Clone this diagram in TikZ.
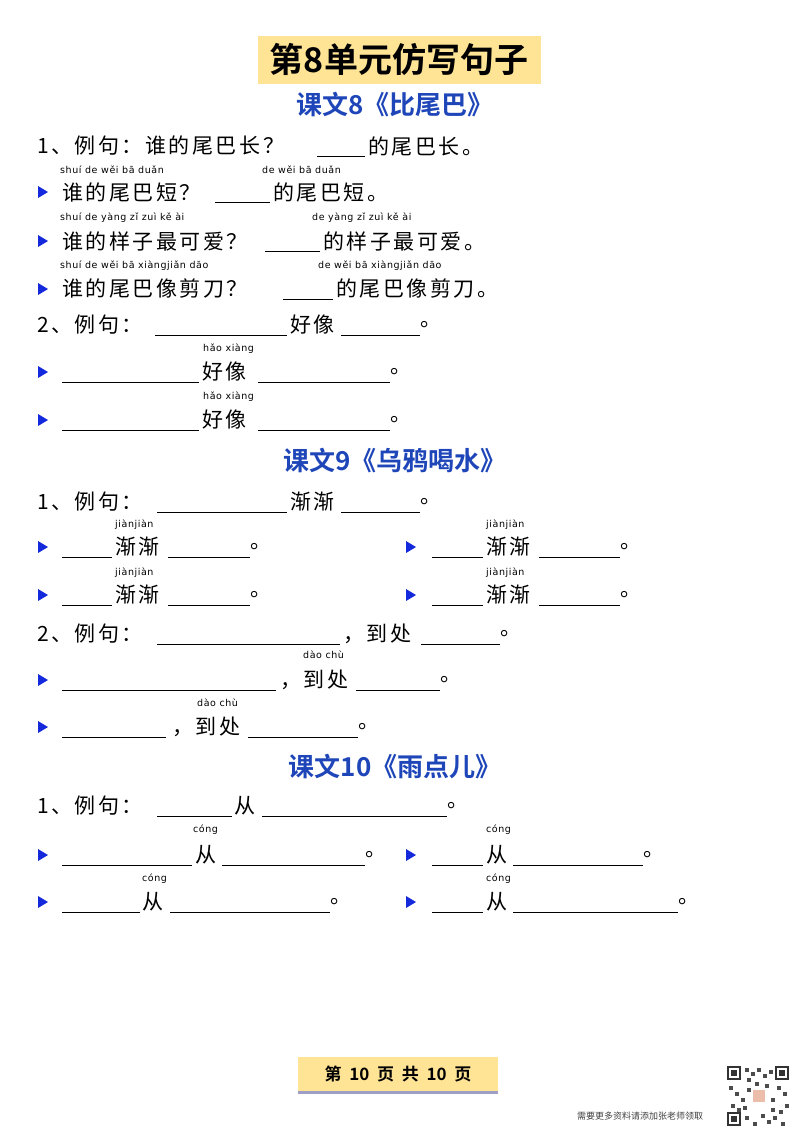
\documentclass[tikz,border=0pt]{standalone}
\usepackage{fontspec}
\newfontfamily\cn[LetterSpace=12]{Noto Sans CJK SC}
\newfontfamily\cnplain{Noto Sans CJK SC}
\newfontfamily\cnb{Noto Sans CJK SC Bold}
\newfontfamily\pyf[LetterSpace=6]{DejaVu Sans}
\definecolor{hblue}{RGB}{30,70,185}
\definecolor{tri}{RGB}{20,40,220}
\definecolor{ybox}{RGB}{255,228,150}
\newcommand\myT[3]{\node[anchor=west,inner sep=0] at (#1,#2) {\cn\fontsize{21}{24}\selectfont #3};}
\newcommand\myB[3]{\draw[line width=0.9pt] (#1,#3+10) -- (#2,#3+10);}
\newcommand\myP[3]{\node[anchor=west,inner sep=0] at (#1,#2) {\pyf\fontsize{9.5}{11}\selectfont #3};}
\newcommand\myR[2]{\fill[tri] (#1-4,#2-6) -- (#1+6,#2) -- (#1-4,#2+6) -- cycle;}
\newcommand\myH[3]{\node[text=hblue] at (#1,#2) {\cnb\fontsize{26}{30}\selectfont #3};}
\begin{document}
\begin{tikzpicture}[x=1pt,y=-1pt]
\useasboundingbox (0,0) rectangle (800,1132);
% title
\fill[ybox] (258,36) rectangle (541,84);
\node at (399,60) {\cnb\fontsize{34}{38}\selectfont 第8单元仿写句子};
\myH{395}{105}{课文8《比尾巴》}
% section 8
\myT{37}{146}{1、例句：谁的尾巴长？}\myB{317}{365}{146}\myT{368}{146}{的尾巴长。}
\myP{60}{170}{shuí de wěi bā duǎn}\myP{262}{170}{de wěi bā duǎn}
\myR{42}{192}\myT{62}{192}{谁的尾巴短？}\myB{215}{270}{192}\myT{273}{192}{的尾巴短。}
\myP{60}{218}{shuí de yàng zǐ zuì kě ài}\myP{312}{218}{de yàng zǐ zuì kě ài}
\myR{42}{241}\myT{62}{241}{谁的样子最可爱？}\myB{265}{320}{241}\myT{323}{241}{的样子最可爱。}
\myP{60}{266}{shuí de wěi bā xiàngjiǎn dāo}\myP{318}{266}{de wěi bā xiàngjiǎn dāo}
\myR{42}{289}\myT{62}{289}{谁的尾巴像剪刀？}\myB{283}{333}{289}\myT{336}{289}{的尾巴像剪刀。}
\myT{37}{325}{2、例句：}\myB{155}{287}{325}\myT{290}{325}{好像}\myB{341}{420}{325}\myT{420}{325}{。}
\myP{203}{349}{hǎo xiàng}
\myR{42}{372}\myB{62}{199}{372}\myT{202}{372}{好像}\myB{258}{390}{372}\myT{390}{372}{。}
\myP{203}{397}{hǎo xiàng}
\myR{42}{420}\myB{62}{199}{420}\myT{202}{420}{好像}\myB{258}{390}{420}\myT{390}{420}{。}
% section 9
\myH{395}{461}{课文9《乌鸦喝水》}
\myT{37}{502}{1、例句：}\myB{157}{287}{502}\myT{290}{502}{渐渐}\myB{341}{420}{502}\myT{420}{502}{。}
\myP{115}{525}{jiànjiàn}\myP{486}{525}{jiànjiàn}
\myR{42}{547}\myB{62}{112}{547}\myT{115}{547}{渐渐}\myB{168}{250}{547}\myT{250}{547}{。}
\myR{410}{547}\myB{432}{483}{547}\myT{486}{547}{渐渐}\myB{539}{620}{547}\myT{620}{547}{。}
\myP{115}{573}{jiànjiàn}\myP{486}{573}{jiànjiàn}
\myR{42}{595}\myB{62}{112}{595}\myT{115}{595}{渐渐}\myB{168}{250}{595}\myT{250}{595}{。}
\myR{410}{595}\myB{432}{483}{595}\myT{486}{595}{渐渐}\myB{539}{620}{595}\myT{620}{595}{。}
\myT{37}{634}{2、例句：}\myB{157}{340}{634}\myT{343}{634}{，到处}\myB{421}{500}{634}\myT{500}{634}{。}
\myP{303}{655}{dào chù}
\myR{42}{680}\myB{62}{276}{680}\myT{280}{680}{，到处}\myB{356}{440}{680}\myT{440}{680}{。}
\myP{197}{703}{dào chù}
\myR{42}{727}\myB{62}{166}{727}\myT{172}{727}{，到处}\myB{248}{358}{727}\myT{358}{727}{。}
% section 10
\myH{395}{767}{课文10《雨点儿》}
\myT{37}{806}{1、例句：}\myB{157}{232}{806}\myT{234}{806}{从}\myB{262}{447}{806}\myT{447}{806}{。}
\myP{193}{830}{cóng}\myP{486}{830}{cóng}
\myR{42}{855}\myB{62}{192}{855}\myT{195}{855}{从}\myB{222}{365}{855}\myT{365}{855}{。}
\myR{410}{855}\myB{432}{483}{855}\myT{486}{855}{从}\myB{513}{643}{855}\myT{643}{855}{。}
\myP{142}{879}{cóng}\myP{486}{879}{cóng}
\myR{42}{902}\myB{62}{140}{902}\myT{142}{902}{从}\myB{170}{330}{902}\myT{330}{902}{。}
\myR{410}{902}\myB{432}{483}{902}\myT{486}{902}{从}\myB{513}{678}{902}\myT{678}{902}{。}
% footer
\fill[ybox] (298,1057) rectangle (498,1091);
\fill[blue!25!gray!60] (298,1091) rectangle (498,1094);
\node at (398,1074) {\cnb\fontsize{17}{20}\selectfont 第\ \ 10\ \ 页\ \ 共\ \ 10\ \ 页};
\node[text=black!75] at (640,1116) {\cnplain\fontsize{9}{10}\selectfont 需要更多资料请添加张老师领取};
% QR placeholder
\begin{scope}[shift={(727,1066)}]
\fill[black!80] (0,0) rectangle (14,14); \fill[white] (2,2) rectangle (12,12); \fill[black!80] (4,4) rectangle (10,10);
\fill[black!80] (48,0) rectangle (62,14); \fill[white] (50,2) rectangle (60,12); \fill[black!80] (52,4) rectangle (58,10);
\fill[black!80] (0,46) rectangle (14,60); \fill[white] (2,48) rectangle (12,58); \fill[black!80] (4,50) rectangle (10,56);
\foreach \i/\j in {18/2,24/6,30/2,36/8,42/4,20/12,28/16,2/20,8/26,14/32,4/38,10/42,50/20,56/26,44/32,58/38,52/44,18/50,26/56,34/48,40/54,46/50,54/56,20/22,38/18,16/40,44/42}
  \fill[black!70] (\i,\j) rectangle ++(4,4);
\fill[red!30!brown!40] (26,24) rectangle (38,36);
\end{scope}
\end{tikzpicture}
\end{document}
